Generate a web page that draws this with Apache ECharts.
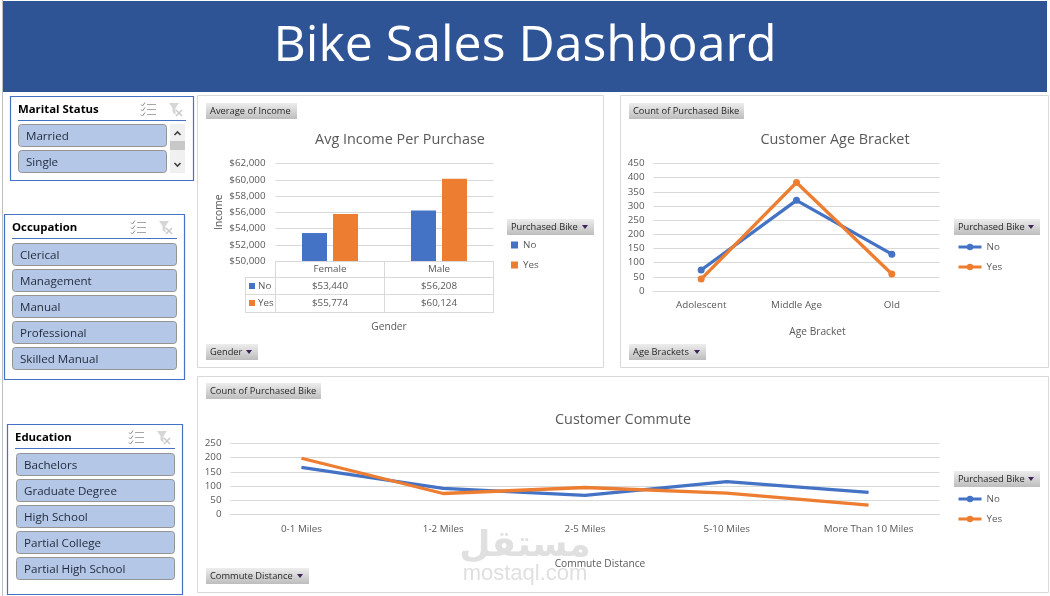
<!DOCTYPE html>
<html>
<head>
<meta charset="utf-8">
<title>Bike Sales Dashboard</title>
<style>
  html, body { margin: 0; padding: 0; background: #fff; }
  #board { width: 1050px; height: 596px; }
</style>
<script src="https://cdn.jsdelivr.net/npm/echarts@6/dist/echarts.min.js"></script>
</head>
<body>
<div id="board"></div>
<script>
// Income by gender and purchase decision
const genders = ['Female', 'Male'];
const incomeNo = [53440, 56208];
const incomeYes = [55774, 60124];

// Buyer counts by age bracket
const ageBrackets = ['Adolescent', 'Middle Age', 'Old'];
const ageNo = [74, 320, 130];
const ageYes = [42, 383, 60];

// Buyer counts by commute distance
const commuteDistances = ['0-1 Miles', '1-2 Miles', '2-5 Miles', '5-10 Miles', 'More Than 10 Miles'];
const commuteNo = [166, 92, 67, 116, 78];
const commuteYes = [198, 74, 95, 75, 33];

// Slicer entries
const maritalStatuses = ['Married', 'Single'];
const occupations = ['Clerical', 'Management', 'Manual', 'Professional', 'Skilled Manual'];
const educationLevels = ['Bachelors', 'Graduate Degree', 'High School', 'Partial College', 'Partial High School'];

const BLUE = '#4472C4';
const ORANGE = '#ED7D31';
const GRID = '#D9D9D9';
const MUTED = '#595959';
const FONT = '"Open Sans", "Noto Sans", sans-serif';

const money = v => '$' + v.toLocaleString('en-US');
const g = [];

function rect(x, y, w, h, style, z, r) {
  g.push({ type: 'rect', silent: true, z: z === undefined ? 5 : z,
    shape: { x, y, width: w, height: h, r: r || 0 }, style });
}
function line(x1, y1, x2, y2, stroke, lineWidth, z) {
  g.push({ type: 'line', silent: true, z: z === undefined ? 5 : z,
    shape: { x1, y1, x2, y2 }, style: { stroke, lineWidth: lineWidth || 1 } });
}
function text(x, y, str, size, fill, opts) {
  const o = opts || {};
  g.push({ type: 'text', silent: true, z: o.z === undefined ? 6 : o.z,
    style: { x, y, text: str, fill, textAlign: o.align || 'left', textVerticalAlign: 'middle',
      font: `${o.weight || 'normal'} ${size}px ${o.family || FONT}` } });
}
function poly(points, fill, z) {
  g.push({ type: 'polygon', silent: true, z: z === undefined ? 6 : z,
    shape: { points }, style: { fill } });
}

// Grey pivot field button, optionally with a drop-down arrow
function fieldButton(x, y, w, label, dropdown) {
  rect(x, y, w, 16, {
    fill: { type: 'linear', x: 0, y: 0, x2: 0, y2: 1,
      colorStops: [{ offset: 0, color: '#EDEDED' }, { offset: 1, color: '#BDBDBD' }] }
  });
  text(x + 4, y + 8, label, 9.3, '#262626');
  if (dropdown) {
    const ax = x + w - 12;
    poly([[ax, y + 6], [ax + 6, y + 6], [ax + 3, y + 10]], '#3F2259');
  }
}

function multiSelectIcon(x, y) {
  for (let i = 0; i < 3; i++) {
    const ly = y - 4.5 + i * 5;
    line(x + 6, ly, x + 15, ly, '#A6A6A6', 1);
    g.push({ type: 'polyline', silent: true, z: 6,
      shape: { points: [[x, ly], [x + 1.5, ly + 1.5], [x + 4, ly - 2]] },
      style: { stroke: '#8C8C8C', lineWidth: 1, fill: null } });
  }
}
function clearFilterIcon(x, y) {
  poly([[x, y - 6], [x + 10, y - 6], [x + 6.5, y - 1], [x + 6.5, y + 6], [x + 3.5, y + 3], [x + 3.5, y - 1]], '#D6D6D6');
  line(x + 7, y + 1, x + 13, y + 7, '#C8C8C8', 1.4);
  line(x + 13, y + 1, x + 7, y + 7, '#C8C8C8', 1.4);
}

function slicer(cfg, items) {
  rect(cfg.x + 0.5, cfg.y + 0.5, cfg.w, cfg.h, { fill: '#fff', stroke: BLUE, lineWidth: 1.2 });
  text(cfg.titleX, cfg.y + 14, cfg.title, 11.4, '#000', { weight: 'bold' });
  line(cfg.titleX, cfg.y + 24.5, cfg.lineEnd, cfg.y + 24.5, BLUE, 1);
  multiSelectIcon(cfg.iconX, cfg.y + 13);
  clearFilterIcon(cfg.iconX + 28, cfg.y + 13);
  items.forEach((item, i) => {
    const by = cfg.btnY + i * 26;
    rect(cfg.btnX + 0.5, by + 0.5, cfg.btnW, 22, { fill: '#B4C7E7', stroke: '#949494', lineWidth: 1 }, 5, 3);
    text(cfg.btnX + 8, by + 13, item, 11.6, '#1F2A3A');
  });
}

// Page frame and banner
rect(0, 0, 1050, 596, { fill: '#fff' }, -3);
line(2.5, 0, 2.5, 596, '#BFBFBF', 1, -2);
rect(3, 1, 1044, 91, { fill: '#2F5496' }, 1);
text(525, 47, 'Bike Sales Dashboard', 50, '#fff', { align: 'center', z: 2 });

// Chart panels
const panelStyle = { fill: '#fff', stroke: GRID, lineWidth: 1 };
rect(197.5, 95.5, 406, 272, panelStyle, -2);
rect(620.5, 95.5, 428, 272, panelStyle, -2);
rect(197.5, 376.5, 851, 216, panelStyle, -2);

// Site mark behind the commute chart
text(525, 547, 'مستقل', 36, '#E0E0E0', { align: 'center', weight: 'bold', family: '"DejaVu Sans", sans-serif', z: -1 });
text(525, 574, 'mostaql.com', 22, '#E0E0E0', { align: 'center', family: '"Liberation Sans", sans-serif', z: -1 });

// Field buttons
fieldButton(206, 103, 91, 'Average of Income');
fieldButton(206, 344, 52, 'Gender', true);
fieldButton(507, 219, 87, 'Purchased Bike', true);
fieldButton(629, 103, 115, 'Count of Purchased Bike');
fieldButton(629, 344, 77, 'Age Brackets', true);
fieldButton(954, 219, 86, 'Purchased Bike', true);
fieldButton(206, 383, 115, 'Count of Purchased Bike');
fieldButton(206, 568, 103, 'Commute Distance', true);
fieldButton(954, 471, 86, 'Purchased Bike', true);

// Data table under the income chart
[277.5, 294.5, 312.5].forEach(y => line(245, y, 494, y, GRID));
line(245.5, 277, 245.5, 313, GRID);
[275.5, 384.5, 493.5].forEach(x => line(x, 261, x, 313, GRID));
[['No', incomeNo, BLUE, 286], ['Yes', incomeYes, ORANGE, 303]].forEach(([label, values, color, y]) => {
  rect(249, y - 3, 6, 6, { fill: color });
  text(258, y, label, 9.8, MUTED);
  values.forEach((v, i) => text(i === 0 ? 330 : 439, y, money(v), 9.8, MUTED, { align: 'center' }));
});

// Slicers
slicer({ x: 10, y: 96, w: 183, h: 84, title: 'Marital Status', titleX: 18, lineEnd: 186, iconX: 141,
  btnX: 18, btnY: 124, btnW: 148 }, maritalStatuses);
rect(170, 124, 15, 49, { fill: '#F0F0F0' });
rect(170, 141, 15, 9, { fill: '#C8C8C8' });
g.push({ type: 'polyline', silent: true, z: 6, shape: { points: [[174.5, 135], [177.5, 132], [180.5, 135]] },
  style: { stroke: '#404040', lineWidth: 1.6, fill: null } });
g.push({ type: 'polyline', silent: true, z: 6, shape: { points: [[174.5, 163], [177.5, 166], [180.5, 163]] },
  style: { stroke: '#404040', lineWidth: 1.6, fill: null } });
slicer({ x: 4, y: 214, w: 180, h: 165, title: 'Occupation', titleX: 12, lineEnd: 177, iconX: 131,
  btnX: 12, btnY: 243, btnW: 164 }, occupations);
slicer({ x: 7, y: 424, w: 175, h: 170, title: 'Education', titleX: 15, lineEnd: 175, iconX: 129,
  btnX: 16, btnY: 453, btnW: 158 }, educationLevels);

const axisText = { color: MUTED, fontSize: 9.8, fontFamily: FONT };
const nameText = { color: MUTED, fontSize: 10.2, fontFamily: FONT };
const titleText = { color: MUTED, fontSize: 14.4, fontWeight: 'normal', fontFamily: FONT };
const gridLine = { show: true, lineStyle: { color: GRID, width: 1 } };
const legendText = { color: MUTED, fontSize: 9.8, fontFamily: FONT };

function valueAxis(gridIndex, min, max, interval, extra) {
  return Object.assign({
    type: 'value', gridIndex, min, max, interval,
    axisLine: { show: false }, axisTick: { show: false },
    axisLabel: Object.assign({ margin: 9 }, axisText),
    splitLine: gridLine
  }, extra || {});
}
function categoryAxis(gridIndex, data, margin, name, shift, nameGap) {
  return {
    type: 'category', gridIndex, data,
    axisLine: { show: true, lineStyle: { color: GRID } },
    axisTick: { show: false },
    axisLabel: Object.assign({ margin, interval: 0 }, axisText),
    splitLine: { show: false },
    name, nameLocation: 'middle', nameGap,
    nameTextStyle: Object.assign({ padding: [0, 0, 0, shift] }, nameText)
  };
}
function lineSeries(name, data, color, axis, markers) {
  return {
    name, type: 'line', data, xAxisIndex: axis, yAxisIndex: axis,
    color, lineStyle: { color, width: 3.3 }, itemStyle: { color },
    symbol: markers ? 'circle' : 'none', symbolSize: 7,
    showSymbol: markers, silent: true, animation: false
  };
}
function legend(names, left, top, itemWidth, itemHeight, itemGap, icon) {
  return {
    data: names, orient: 'vertical', left, top, itemWidth, itemHeight, itemGap, icon,
    padding: 0, selectedMode: false, textStyle: legendText,
    lineStyle: { width: 3 },
    // Each chart keeps its own series, the legend only shows the purchase answer
    formatter: n => n.split(' ').pop()
  };
}

const chart = echarts.init(document.getElementById('board'), null, { renderer: 'canvas' });
chart.setOption({
  animation: false,
  backgroundColor: 'transparent',
  graphic: { elements: g },
  title: [
    { text: 'Avg Income Per Purchase', left: 400, top: 133, textAlign: 'center', textStyle: titleText, padding: 0 },
    { text: 'Customer Age Bracket', left: 835, top: 133, textAlign: 'center', textStyle: titleText, padding: 0 },
    { text: 'Customer Commute', left: 623, top: 413, textAlign: 'center', textStyle: titleText, padding: 0 }
  ],
  grid: [
    { left: 275.5, top: 163.5, width: 218, height: 97.5 },
    { left: 653.5, top: 163.5, width: 286, height: 127.5 },
    { left: 230.5, top: 443.5, width: 709, height: 71 }
  ],
  xAxis: [
    categoryAxis(0, genders, 3, 'Gender', 9, 61),
    categoryAxis(1, ageBrackets, 9, 'Age Bracket', 42, 36),
    categoryAxis(2, commuteDistances, 10, 'Commute Distance', 30, 45)
  ],
  yAxis: [
    valueAxis(0, 50000, 62000, 2000, {
      axisLabel: Object.assign({ margin: 10, formatter: money }, axisText),
      name: 'Income', nameLocation: 'middle', nameGap: 51, nameRotate: 90, nameTextStyle: nameText
    }),
    valueAxis(1, 0, 450, 50),
    valueAxis(2, 0, 250, 50)
  ],
  legend: [
    legend(['Income No', 'Income Yes'], 511, 240, 7, 7, 10, 'rect'),
    legend(['Age No', 'Age Yes'], 957, 242, 23, 8, 10),
    legend(['Commute No', 'Commute Yes'], 957, 494, 23, 8, 10)
  ],
  series: [
    { name: 'Income No', type: 'bar', data: incomeNo, xAxisIndex: 0, yAxisIndex: 0, barWidth: 25, barGap: '24%', color: BLUE, silent: true },
    { name: 'Income Yes', type: 'bar', data: incomeYes, xAxisIndex: 0, yAxisIndex: 0, barWidth: 25, barGap: '24%', color: ORANGE, silent: true },
    lineSeries('Age No', ageNo, BLUE, 1, true),
    lineSeries('Age Yes', ageYes, ORANGE, 1, true),
    lineSeries('Commute No', commuteNo, BLUE, 2, false),
    lineSeries('Commute Yes', commuteYes, ORANGE, 2, false)
  ]
});
</script>
</body>
</html>
